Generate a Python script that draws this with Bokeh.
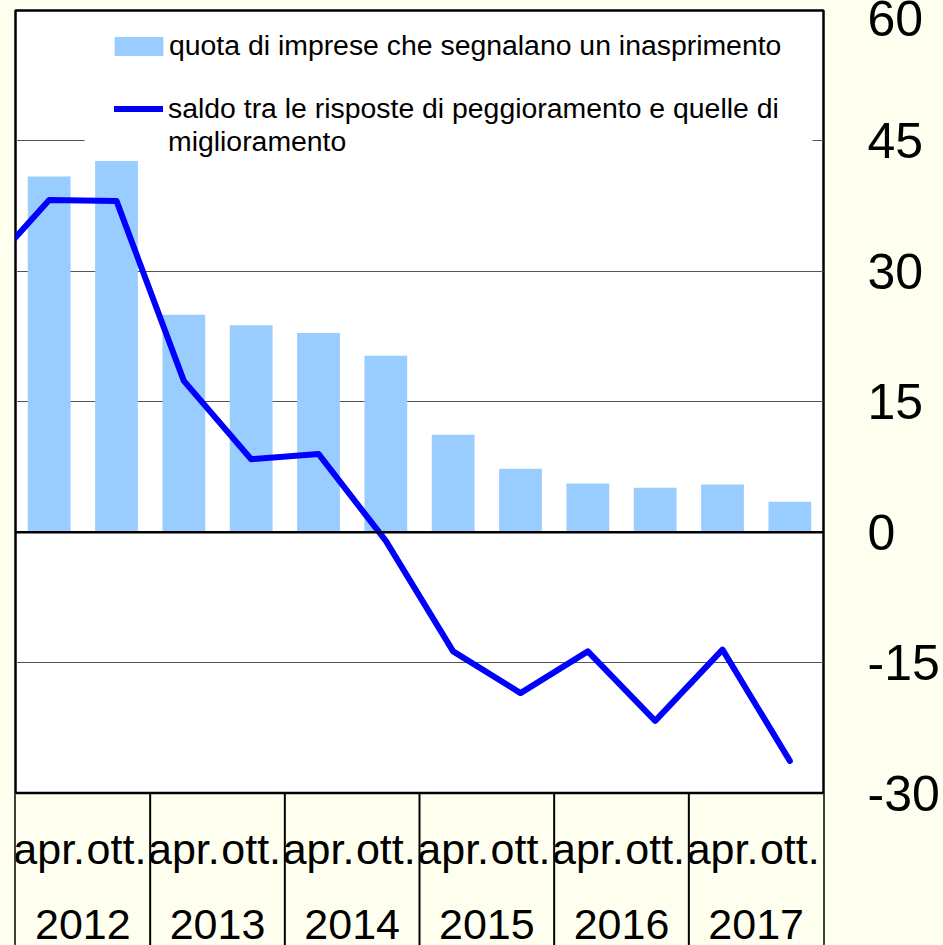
from bokeh.plotting import figure
from bokeh.models import (Range1d, LinearAxis, FixedTicker, Span, BoxAnnotation,
                          Legend, LegendItem, Grid)
from bokeh.core.properties import value
from bokeh.embed import file_html
from bokeh.resources import INLINE

# ---------------- data ----------------
years = ["2012", "2013", "2014", "2015", "2016", "2017"]
periods = ["apr.", "ott."]
# share of firms reporting a tightening (bars)
quota = [40.9, 42.7, 25.0, 23.8, 22.9, 20.3, 11.2, 7.3, 5.6, 5.1, 5.5, 3.5]
# balance worsening - improving (line); previous survey (ott. 2011) runs in from the left edge
saldo_ott2011 = 29.6
saldo = [38.2, 38.1, 17.4, 8.4, 9.0, -1.0, -13.7, -18.5, -13.7, -21.7, -13.5, -26.3]
y_ticks = [-30, -15, 0, 15, 30, 45, 60]
y_tick_labels = ["-30", "-15", "0", "15", "30", "45", "60"]
grid_ticks = [-15, 15, 30, 45]
legend_labels = ["quota di imprese che segnalano un inasprimento",
                 "saldo tra le risposte di peggioramento e quelle di\nmiglioramento"]

# ---------------- style / layout ----------------
CREAM = "#FFFFF0"
BAR = "#99CCFF"
LINE = "#0000FF"
FONT = "Liberation Sans"
FRAME_H = 935
Y_MIN, Y_MAX = -47.53, 60
AXIS_BOTTOM = -30
PERIOD_LABEL_Y = -36.4
YEAR_LABEL_Y = -45.1
LEG_FONT = "28.4px"

n = len(quota)
xs = list(range(n))

p = figure(frame_width=808, frame_height=FRAME_H,
           x_range=Range1d(-0.5, n - 0.5), y_range=Range1d(Y_MIN, Y_MAX),
           output_backend="svg", toolbar_location=None,
           x_axis_location=None, y_axis_location=None,
           min_border_left=15, min_border_right=0, min_border_top=10, min_border_bottom=0,
           background_fill_color="white", border_fill_color=CREAM,
           outline_line_color="black", outline_line_width=2.5)
p.xgrid.visible = False
p.ygrid.visible = False

p.add_layout(Grid(dimension=1, ticker=FixedTicker(ticks=grid_ticks),
                  grid_line_color="#555555", grid_line_width=1.2))

# category band below the plot area
p.add_layout(BoxAnnotation(top=AXIS_BOTTOM, fill_color=CREAM, fill_alpha=1,
                           line_alpha=0, level="underlay"))

bars = p.vbar(x=xs, top=quota, bottom=0, width=0.635, fill_color=BAR, line_color=None)
line = p.line(x=[-1] + xs, y=[saldo_ott2011] + saldo, line_color=LINE, line_width=6,
              line_join="round", line_cap="round")

p.add_layout(Span(location=0, dimension="width", line_color="black", line_width=2.5))
p.add_layout(Span(location=AXIS_BOTTOM, dimension="width", line_color="black", line_width=2.5))

# year separators in the category band
bounds = [2 * i - 0.5 for i in range(1, len(years))]
p.segment(x0=bounds, x1=bounds, y0=[AXIS_BOTTOM] * len(bounds), y1=[Y_MIN] * len(bounds),
          line_color="black", line_width=2)

p.text(x=xs, y=[PERIOD_LABEL_Y] * n, text=periods * len(years),
       text_font=value(FONT), text_font_size="43px", text_align="center",
       text_baseline="alphabetic", text_color="black")
p.text(x=[2 * i + 0.5 for i in range(len(years))], y=[YEAR_LABEL_Y] * len(years), text=years,
       text_font=value(FONT), text_font_size="43px", text_align="center",
       text_baseline="alphabetic", text_color="black")

# right value axis
ax = LinearAxis(ticker=FixedTicker(ticks=y_ticks),
                major_label_overrides=dict(zip(y_ticks, y_tick_labels)),
                major_label_text_font=FONT, major_label_text_font_size="50px",
                major_label_text_color="black", major_label_standoff=44,
                major_tick_in=0, major_tick_out=0, minor_tick_in=0, minor_tick_out=0,
                axis_line_color=None)
p.add_layout(ax, "right")

# legend with white backing box
p.add_layout(BoxAnnotation(left=0.525, right=11.337, bottom=43.9, top=59.8,
                           fill_color="white", fill_alpha=1, line_alpha=0))
legend_a = Legend(items=[LegendItem(label=legend_labels[0], renderers=[bars])],
                  location=(93, 883), padding=0, margin=0, spacing=0,
                  glyph_width=61, glyph_height=24, label_standoff=0,
                  label_text_font=FONT, label_text_font_size=LEG_FONT,
                  label_text_color="black",
                  background_fill_alpha=0, border_line_alpha=0)
line_label_parts = legend_labels[1].split("\n")
legend_b = Legend(items=[LegendItem(label=line_label_parts[0], renderers=[line]),
                         LegendItem(label=line_label_parts[1], renderers=[])],
                  location=(99, 787), padding=0, margin=0, spacing=0,
                  glyph_width=49, glyph_height=19, label_standoff=5,
                  label_text_font=FONT, label_text_font_size=LEG_FONT,
                  label_text_color="black",
                  background_fill_alpha=0, border_line_alpha=0)
p.add_layout(legend_a)
p.add_layout(legend_b)

html = file_html(p, INLINE, title="chart")
html = html.replace("<head>", "<head>\n<style>html, body { background: #FFFFF0; }</style>", 1)
open("out.html", "w").write(html)
